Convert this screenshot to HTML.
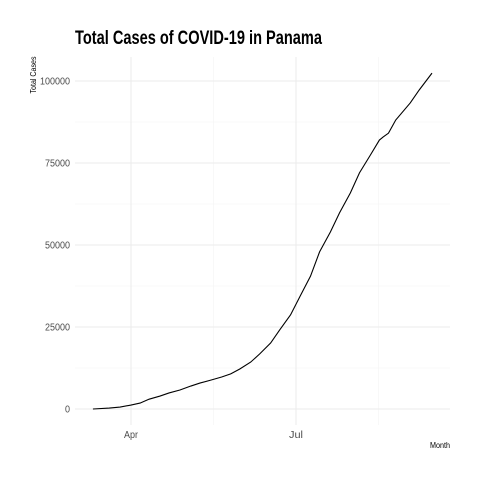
<!DOCTYPE html>
<html><head><style>
body{margin:0;background:#fff;}
svg text{font-family:"Liberation Sans Narrow","Liberation Sans",sans-serif;}
</style></head><body>
<svg id="chart" width="480" height="480" xmlns="http://www.w3.org/2000/svg">
<rect width="480" height="480" fill="#fff"/>
<text x="75" y="44" font-size="19" font-weight="bold" fill="#000" textLength="247" lengthAdjust="spacingAndGlyphs">Total Cases of COVID-19 in Panama</text>
<text transform="translate(36,75) rotate(-90)" font-size="8" text-anchor="middle" fill="#000" textLength="37" lengthAdjust="spacingAndGlyphs">Total Cases</text>
<text x="450" y="448" font-size="8" text-anchor="end" fill="#000" textLength="20" lengthAdjust="spacingAndGlyphs">Month</text>
<g id="grid"></g><g id="ticks"></g><g id="series"></g>
</svg>
<script>
const days = [-21,-12,-6,0,5,10,16,21,27,33,38,44,50,55,60,66,71,77,82,88,93,99,104,110,115,121,126,132,137,139,142,146,154,159,166];
const cases = [0,300,600,1200,1800,3000,3950,4900,5800,7000,7900,8800,9750,10700,12200,14300,16800,20100,24100,28700,34100,40500,47900,54000,59800,65900,72000,77400,82000,82900,84100,88100,93300,97300,102400];
const yTicks = [0,25000,50000,75000,100000];
const yMinor = [12500,37500,62500,87500];
const xTickDays = [0,91];
const xTickLabels = ["Apr","Jul"];
const xMinorDays = [45.5,136.5];
const NS="http://www.w3.org/2000/svg";
const X = d => 131 + d*165/91;
const Y = v => 409 - v*82/25000;
const L=75,R=450,T=57,B=425;
function mk(tag,attrs,parent){const e=document.createElementNS(NS,tag);for(const k in attrs)e.setAttribute(k,attrs[k]);parent.appendChild(e);return e;}
const grid=document.getElementById('grid'),ticks=document.getElementById('ticks'),series=document.getElementById('series');
yMinor.forEach(v=>{const l=mk('line',{x1:L,x2:R,y1:Y(v),y2:Y(v),stroke:'#f2f2f2','stroke-width':0.5},grid);

});
xMinorDays.forEach(d=>{const l=mk('line',{x1:X(d),x2:X(d),y1:T,y2:B,stroke:'#f2f2f2','stroke-width':0.5},grid);

});
yTicks.forEach(v=>{const l=mk('line',{x1:L,x2:R,y1:Y(v),y2:Y(v),stroke:'#ebebeb','stroke-width':1},grid);


const s=String(v);
const t=mk('text',{x:70,y:Y(v)+3.5,'font-size':10,'text-anchor':'end',fill:'#4d4d4d',textLength:s.length*5.0,lengthAdjust:'spacingAndGlyphs'},ticks);t.textContent=s;

});
xTickDays.forEach((d,i)=>{const l=mk('line',{x1:X(d),x2:X(d),y1:T,y2:B,stroke:'#ebebeb','stroke-width':1},grid);


const t=mk('text',{x:X(d),y:438,'font-size':10,'text-anchor':'middle',fill:'#4d4d4d',textLength:14,lengthAdjust:'spacingAndGlyphs'},ticks);t.textContent=xTickLabels[i];

});
const p=mk('polyline',{points:days.map((d,i)=>X(d)+','+Y(cases[i])).join(' '),fill:'none',stroke:'#000','stroke-width':1.1},series);


</script>
</body></html>
